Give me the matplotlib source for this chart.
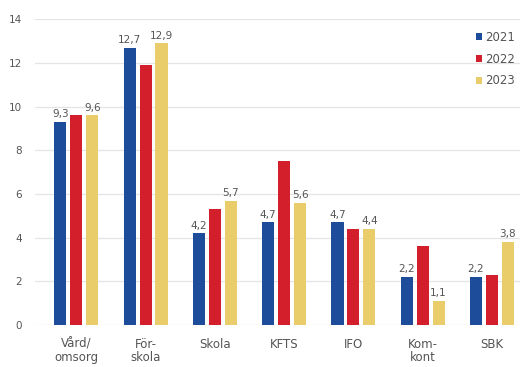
import numpy as np
import matplotlib.pyplot as plt

# Sjukfrånvaro per verksamhet, procent
categories = ["Vård/\nomsorg", "För-\nskola", "Skola", "KFTS", "IFO", "Kom-\nkont", "SBK"]
years = ["2021", "2022", "2023"]
v2021 = [9.3, 12.7, 4.2, 4.7, 4.7, 2.2, 2.2]
v2022 = [9.6, 11.9, 5.3, 7.5, 4.4, 3.6, 2.3]
v2023 = [9.6, 12.9, 5.7, 5.6, 4.4, 1.1, 3.8]
# only the first and last year carry value labels
labelled = [True, False, True]

colors = ["#1c4c9a", "#d21f2b", "#e9cd6b"]
text_color = "#555555"

fig = plt.figure(figsize=(5.27, 3.67), dpi=100)
ax = fig.add_axes([0.066, 0.114, 0.92, 0.834])

x = np.arange(len(categories))
width = 0.175
offset = 0.23

for i, (vals, year) in enumerate(zip([v2021, v2022, v2023], years)):
    pos = x + (i - 1) * offset
    ax.bar(pos, vals, width=width, color=colors[i], label=year, zorder=3)
    if labelled[i]:
        for px, v in zip(pos, vals):
            ax.text(px, v + 0.12, f"{v:.1f}".replace(".", ","), ha="center", va="bottom",
                    fontsize=7.5, color=text_color, zorder=4)

ax.set_ylim(0, 14)
ax.set_xlim(-0.6, 6.4)
ax.set_yticks(range(0, 15, 2))
ax.set_xticks(x)
ax.set_xticklabels(categories, fontsize=8.5, color=text_color, linespacing=1.0)
ax.tick_params(axis="y", labelsize=7.5, labelcolor=text_color, length=0, pad=9)
ax.tick_params(axis="x", length=0, pad=9)
ax.grid(axis="y", color="#e4e4e4", linewidth=0.9, zorder=0)
for s in ax.spines.values():
    s.set_visible(False)

leg = ax.legend(loc="upper right", bbox_to_anchor=(1.005, 0.985), frameon=False,
                fontsize=8.5, handlelength=0.5, handleheight=0.5, handletextpad=0.25,
                labelspacing=0.75, borderaxespad=0.2)
for t in leg.get_texts():
    t.set_color(text_color)

fig.savefig("out.png", dpi=100)
